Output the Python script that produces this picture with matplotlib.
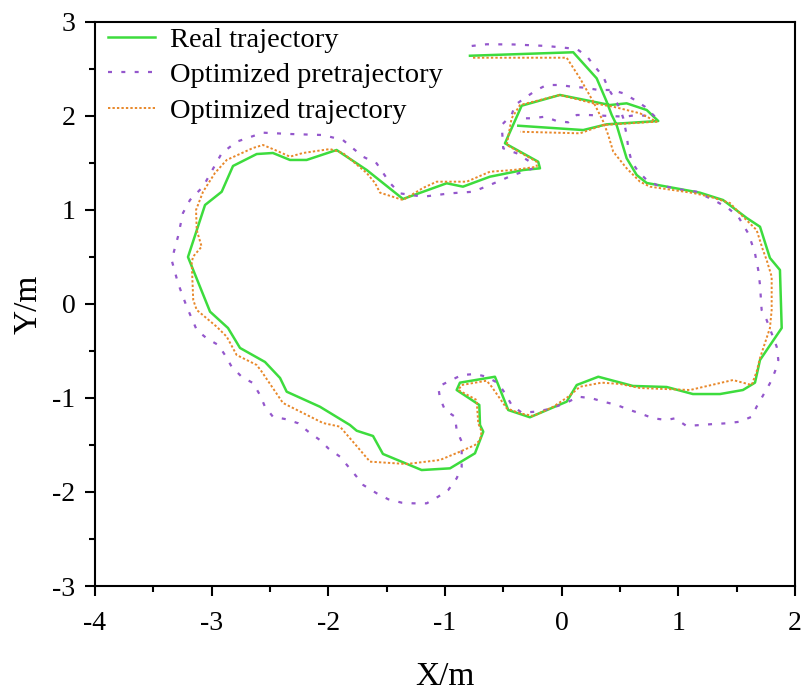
import matplotlib
matplotlib.use("Agg")
import matplotlib.pyplot as plt
from matplotlib.ticker import MultipleLocator

real_x = [-0.786, 0.099, 0.300, 0.386, 0.429, 0.471, 0.514, 0.557, 0.643, 0.729,
          1.185, 1.383, 1.586, 1.700, 1.785, 1.871, 1.886, 1.700, 1.657, 1.554,
          1.357, 1.125, 0.900, 0.611, 0.314, 0.129, 0.043, -0.272, -0.458, -0.543,
          -0.572, -0.872, -0.900, -0.706, -0.700, -0.672, -0.743, -0.957, -1.200, -1.532,
          -1.617, -1.757, -1.815, -2.072, -2.357, -2.414, -2.543, -2.757, -2.860, -3.014,
          -3.203, -3.057, -2.914, -2.817, -2.614, -2.475, -2.329, -2.186, -1.929, -1.671,
          -1.360, -0.986, -0.846, -0.615, -0.329, -0.186, -0.201, -0.486, -0.343, -0.015,
          0.414, 0.557, 0.729, 0.828, 0.386, 0.185, -0.372]
real_y = [2.638, 2.675, 2.398, 2.149, 2.008, 1.902, 1.724, 1.548, 1.370, 1.285,
          1.182, 1.104, 0.913, 0.820, 0.488, 0.360, -0.257, -0.597, -0.838, -0.916,
          -0.959, -0.959, -0.884, -0.873, -0.775, -0.863, -1.040, -1.206, -1.129, -0.863,
          -0.775, -0.838, -0.916, -1.075, -1.288, -1.359, -1.589, -1.749, -1.767, -1.596,
          -1.405, -1.349, -1.288, -1.094, -0.934, -0.788, -0.618, -0.469, -0.257, -0.083,
          0.498, 1.051, 1.192, 1.466, 1.593, 1.604, 1.530, 1.530, 1.636, 1.423,
          1.115, 1.282, 1.246, 1.352, 1.423, 1.441, 1.511, 1.707, 2.107, 2.221,
          2.114, 2.132, 2.061, 1.944, 1.909, 1.848, 1.894]

pre_x = [-0.771, -0.643, -0.415, -0.129, 0.129, 0.214, 0.285, 0.357, 0.399, 0.442,
         0.500, 0.528, 0.557, 0.571, 0.600, 0.657, 0.729, 0.814, 0.928, 1.042,
         1.157, 1.243, 1.329, 1.428, 1.514, 1.599, 1.629, 1.657, 1.685, 1.700,
         1.714, 1.757, 1.800, 1.843, 1.857, 1.828, 1.785, 1.728, 1.671, 1.629,
         1.528, 1.414, 1.299, 1.185, 1.071, 0.971, 0.900, 0.785, 0.671, 0.585,
         0.471, 0.357, 0.257, 0.142, 0.043, -0.115, -0.229, -0.343, -0.429, -0.486,
         -0.543, -0.643, -0.743, -0.857, -0.957, -1.058, -1.043, -1.000, -0.915, -0.900,
         -0.857, -0.857, -0.857, -0.900, -0.972, -1.058, -1.157, -1.272, -1.371, -1.486,
         -1.586, -1.701, -1.757, -1.900, -2.001, -2.072, -2.172, -2.258, -2.357, -2.475,
         -2.543, -2.586, -2.646, -2.743, -2.829, -2.886, -2.943, -3.043, -3.128, -3.214,
         -3.289, -3.343, -3.289, -3.246, -3.186, -3.074, -2.914, -2.786, -2.560, -2.329,
         -2.046, -1.875, -1.703, -1.586, -1.472, -1.386, -1.189, -0.957, -0.760, -0.615,
         -0.415, -0.243, -0.272, -0.386, -0.501, -0.514, -0.429, -0.400, -0.300, -0.214,
         -0.129, -0.015, 0.086, 0.200, 0.314, 0.429, 0.528, 0.628, 0.714, 0.800,
         0.643, 0.543, 0.228, 0.129, 0.057, -0.043, -0.143, -0.257, -0.357]
pre_y = [2.742, 2.760, 2.758, 2.742, 2.710, 2.635, 2.522, 2.415, 2.292, 2.203,
         2.079, 1.973, 1.795, 1.654, 1.511, 1.405, 1.317, 1.264, 1.239, 1.211,
         1.192, 1.139, 1.086, 1.016, 0.927, 0.750, 0.644, 0.537, 0.360, 0.200,
         -0.065, -0.172, -0.313, -0.456, -0.597, -0.721, -0.845, -0.969, -1.094, -1.200,
         -1.253, -1.270, -1.278, -1.288, -1.299, -1.217, -1.235, -1.217, -1.164, -1.129,
         -1.075, -1.040, -1.004, -0.987, -1.051, -1.121, -1.147, -1.157, -1.075, -0.951,
         -0.845, -0.775, -0.746, -0.757, -0.817, -0.881, -1.004, -1.129, -1.200, -1.341,
         -1.466, -1.607, -1.732, -1.855, -1.979, -2.050, -2.121, -2.121, -2.114, -2.078,
         -2.014, -1.926, -1.838, -1.625, -1.536, -1.448, -1.359, -1.270, -1.228, -1.200,
         -1.094, -0.969, -0.842, -0.775, -0.668, -0.544, -0.438, -0.366, -0.278, -0.030,
         0.222, 0.466, 0.714, 0.966, 1.104, 1.246, 1.601, 1.724, 1.820, 1.806,
         1.795, 1.742, 1.565, 1.494, 1.285, 1.175, 1.139, 1.175, 1.192, 1.264,
         1.370, 1.441, 1.511, 1.601, 1.654, 1.902, 2.008, 2.114, 2.203, 2.274,
         2.327, 2.327, 2.309, 2.298, 2.274, 2.274, 2.239, 2.167, 2.096, 1.990,
         2.008, 1.990, 2.008, 2.008, 1.930, 1.944, 1.990, 1.973, 1.973]

opt_x = [-0.760, 0.043, 0.157, 0.271, 0.357, 0.399, 0.442, 0.557, 0.671, 0.757,
         1.125, 1.271, 1.443, 1.554, 1.671, 1.725, 1.757, 1.800, 1.800, 1.785,
         1.700, 1.671, 1.629, 1.468, 1.100, 0.671, 0.500, 0.343, 0.157, 0.057,
         -0.072, -0.243, -0.357, -0.471, -0.600, -0.643, -0.857, -0.886, -0.729, -0.715,
         -0.686, -0.700, -0.743, -0.872, -1.043, -1.329, -1.643, -1.789, -1.900, -2.046,
         -2.389, -2.571, -2.614, -2.786, -2.871, -2.957, -3.128, -3.158, -3.171, -3.160,
         -3.086, -3.128, -3.134, -3.074, -2.972, -2.871, -2.646, -2.560, -2.457, -2.329,
         -2.217, -1.986, -1.875, -1.671, -1.600, -1.557, -1.360, -1.189, -1.071, -0.814,
         -0.615, -0.415, -0.214, -0.214, -0.471, -0.429, -0.357, -0.015, 0.271, 0.442,
         0.671, 0.814, 0.357, 0.157, -0.357]
opt_y = [2.617, 2.617, 2.398, 2.149, 1.937, 1.795, 1.618, 1.441, 1.299, 1.246,
         1.179, 1.139, 1.072, 0.927, 0.785, 0.573, 0.466, 0.289, -0.065, -0.257,
         -0.576, -0.721, -0.863, -0.810, -0.916, -0.895, -0.852, -0.838, -0.881, -0.987,
         -1.094, -1.192, -1.164, -1.111, -0.881, -0.817, -0.863, -0.916, -1.022, -1.270,
         -1.359, -1.448, -1.501, -1.572, -1.660, -1.703, -1.678, -1.466, -1.306, -1.267,
         -1.054, -0.721, -0.650, -0.544, -0.349, -0.243, -0.065, 0.041, 0.434, 0.501,
         0.608, 0.785, 0.998, 1.192, 1.391, 1.530, 1.657, 1.689, 1.636, 1.565,
         1.604, 1.646, 1.604, 1.391, 1.285, 1.182, 1.104, 1.232, 1.299, 1.299,
         1.405, 1.423, 1.458, 1.511, 1.689, 1.973, 2.114, 2.221, 2.132, 2.096,
         2.026, 1.937, 1.902, 1.813, 1.830]

labels = ["Real trajectory", "Optimized pretrajectory", "Optimized trajectory"]
x_ticks = [-4, -3, -2, -1, 0, 1, 2]
y_ticks = [-3, -2, -1, 0, 1, 2, 3]

plt.rcParams['font.family'] = ['Liberation Serif', 'DejaVu Serif']

fig = plt.figure(figsize=(8.01, 6.90), dpi=100)
ax = fig.add_axes([95/801, 1-586/690, 700/801, (586-21.7)/690])

ax.plot(real_x, real_y, color='#3ddc3d', lw=1.8, label=labels[0], zorder=2)
ax.plot(pre_x, pre_y, color='#9457cc', lw=1.6, linestyle=(0, (1.8, 4.2)),
        label=labels[1], zorder=3)
ax.plot(opt_x, opt_y, color='#e8882a', lw=1.4, linestyle=(0, (1.2, 1.1)),
        label=labels[2], zorder=4)

ax.set_xlim(-4, 2)
ax.set_ylim(-3, 3)
ax.set_xticks(x_ticks)
ax.set_yticks(y_ticks)
ax.set_xticklabels([str(v) for v in x_ticks])
ax.set_yticklabels([str(v) for v in y_ticks])
ax.xaxis.set_minor_locator(MultipleLocator(0.5))
ax.yaxis.set_minor_locator(MultipleLocator(0.5))
ax.tick_params(which='major', direction='out', length=7.5, width=1.5,
               labelsize=20, top=False, right=False)
ax.tick_params(which='minor', direction='out', length=4, width=1.5,
               top=False, right=False)
ax.tick_params(axis='x', which='major', pad=10.5)
ax.tick_params(axis='y', which='major', pad=6.5)
for s in ax.spines.values():
    s.set_linewidth(1.5)

ax.set_xlabel("X/m", fontsize=24)
ax.xaxis.set_label_coords(0.5, -0.133)
ax.set_ylabel("Y/m", fontsize=24)
ax.yaxis.set_label_coords(-0.073, 0.5)

ax.legend(loc='upper left', bbox_to_anchor=(0.0186, 0.9906), frameon=False,
          fontsize=20.5, handlelength=1.65, handletextpad=0.53, labelspacing=0.33,
          borderaxespad=0.0, borderpad=0.0)

fig.savefig("out.png", dpi=100)
